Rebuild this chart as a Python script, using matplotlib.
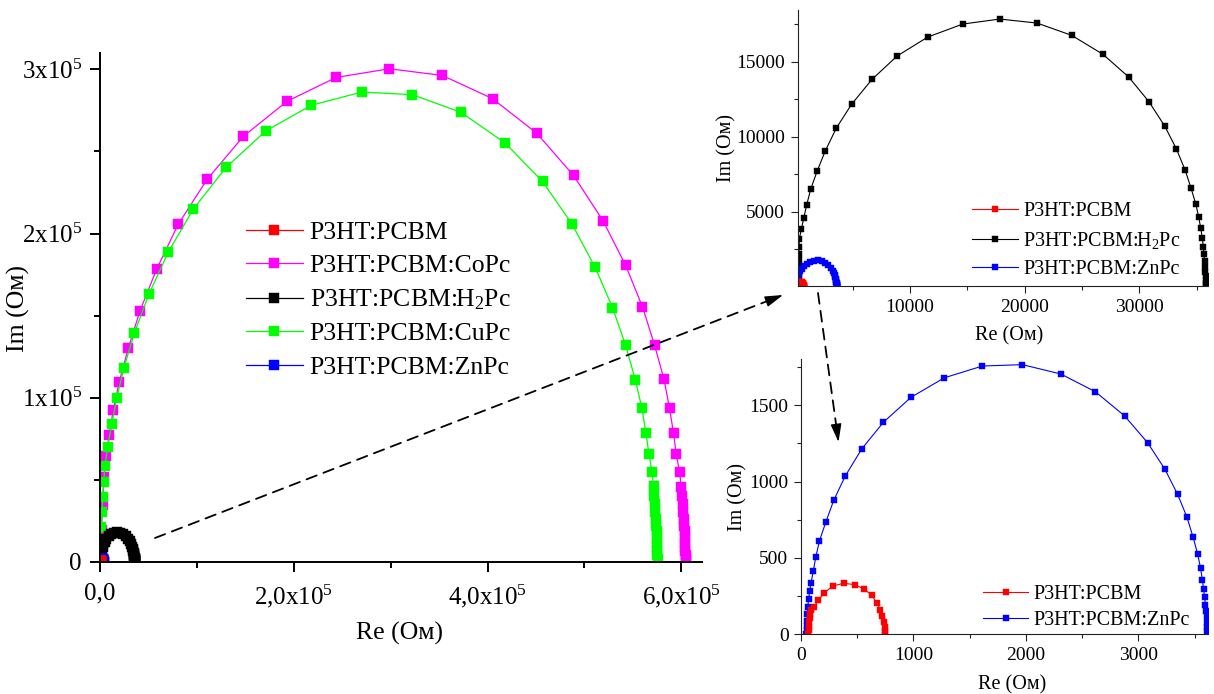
import matplotlib
matplotlib.use('Agg')
import matplotlib.pyplot as plt
from matplotlib.patches import FancyArrowPatch

plt.rcParams['font.family'] = ['Liberation Serif', 'DejaVu Serif']
plt.rcParams['mathtext.fontset'] = 'custom'
plt.rcParams['mathtext.rm'] = 'Liberation Serif'
plt.rcParams['mathtext.it'] = 'Liberation Serif:italic'
plt.rcParams['mathtext.default'] = 'regular'

# ---- impedance spectra (Re, -Im in Ohm) ----
labels = ['P3HT:PCBM', 'P3HT:PCBM:CoPc', 'P3HT:PCBM:H$_2$Pc',
          'P3HT:PCBM:CuPc', 'P3HT:PCBM:ZnPc']
colors = ['#ff0000', '#ff00ff', '#000000', '#00ff00', '#0000ff']

pcbm_re = [66, 67, 69, 72, 76, 81, 88, 113, 155, 208, 282, 380, 478, 564, 629,
           676, 706, 724, 735, 744, 747, 749]
pcbm_im = [5, 25, 50, 78, 105, 133, 160, 177, 223, 272, 316, 334, 325, 296, 255,
           203, 159, 120, 82, 50, 24, 6]

copc_re = [500, 1000, 1550, 2600, 4130, 6200, 9600, 13700, 19900, 29200,
           41300, 58500, 80800, 110800, 148000, 192800, 243700, 298700, 353400, 405100,
           450900, 488700, 519000, 542400, 559900, 572300, 582000, 587800, 591900, 594700,
           598100, 599900, 600600, 601300, 601900, 602400, 602900, 603300, 603600, 603900,
           604100, 604200, 604300, 604300, 604400]
copc_im = [1000, 10000, 19300, 34600, 51800, 64500, 77300, 92500, 109800, 130100,
           152900, 178300, 205700, 233200, 259200, 280500, 295100, 300400, 296300, 282200,
           261000, 235400, 207900, 180700, 155300, 132100, 111400, 93500, 78300, 65500,
           54900, 45700, 40000, 35000, 30300, 26000, 22000, 18500, 15000, 12000,
           9000, 6500, 4300, 2400, 800]

h2pc_re = [260, 262, 265, 268, 272, 276, 282, 290, 300, 314,
           340, 515, 724, 986, 1335, 1885, 2609, 3569, 4913, 6684,
           8866, 11544, 14599, 17828, 21083, 24110, 26841, 29084, 30855, 32225,
           33238, 33997, 34521, 34931, 35192, 35367, 35507, 35594, 35650, 35700,
           35740, 35770, 35790, 35800, 35810, 35815]
h2pc_im = [50, 150, 300, 500, 750, 1050, 1400, 1800, 2200, 2667,
           3200, 3827, 4580, 5467, 6513, 7693, 9067, 10580, 12180, 13827,
           15380, 16647, 17513, 17847, 17580, 16760, 15493, 13980, 12333, 10713,
           9200, 7800, 6580, 5533, 4647, 3893, 3227, 2667, 2200, 1750,
           1350, 1000, 700, 450, 250, 100]

cupc_re = [500, 800, 1300, 2100, 2800, 3800, 5200, 7900, 12100, 17200,
           24800, 35400, 50600, 70500, 96300, 130100, 171100, 217900, 270200, 322500,
           372700, 418200, 456700, 487000, 511100, 528900, 542400, 552500, 559300, 563400,
           566500, 569600, 571300, 572000, 572700, 573300, 573800, 574200, 574600, 574900,
           575100, 575200, 575300, 575300, 575400]
cupc_im = [5900, 13200, 21200, 30300, 39600, 48800, 58400, 70100, 83800, 99600,
           118300, 139300, 163200, 188700, 214900, 240300, 262500, 278100, 286200, 284600,
           273800, 255100, 231700, 205900, 179300, 154900, 132100, 110800, 93500, 78700,
           65700, 54900, 46200, 40000, 35000, 30300, 26000, 22000, 18500, 15000,
           12000, 9000, 6500, 4000, 1500]

znpc_re = [48, 49, 51, 53, 56, 60, 68, 77, 90, 110,
           131, 164, 220, 291, 395, 540, 733, 978, 1275, 1613,
           1969, 2310, 2618, 2879, 3083, 3237, 3350, 3433, 3486, 3528,
           3554, 3570, 3581, 3590, 3597, 3603, 3607, 3610, 3613, 3615, 3616]
znpc_im = [5, 25, 55, 90, 130, 181, 231, 284, 339, 416,
           504, 611, 733, 877, 1038, 1213, 1388, 1551, 1679, 1756,
           1765, 1704, 1588, 1429, 1254, 1080, 916, 766, 639, 526,
           432, 355, 295, 242, 195, 150, 110, 75, 45, 20, 5]

series = {
    'pcbm': (pcbm_re, pcbm_im, 0),
    'copc': (copc_re, copc_im, 1),
    'h2pc': (h2pc_re, h2pc_im, 2),
    'cupc': (cupc_re, cupc_im, 3),
    'znpc': (znpc_re, znpc_im, 4),
}

main_xticks = [0, 2e5, 4e5, 6e5]
main_xticklabels = ['0,0', '2,0x10$^5$', '4,0x10$^5$', '6,0x10$^5$']
main_yticks = [0, 1e5, 2e5, 3e5]
main_yticklabels = ['0', '1x10$^5$', '2x10$^5$', '3x10$^5$']

W, H = 1214, 694
fig = plt.figure(figsize=(W / 100, H / 100), dpi=100)


def px_axes(l, t, r, b):
    return fig.add_axes([l / W, 1 - b / H, (r - l) / W, (b - t) / H])


def fx(x):
    return x / W


def fy(y):
    return 1 - y / H


def style(ax, lw, color, major, minor, size):
    for s in ('top', 'right'):
        ax.spines[s].set_visible(False)
    for s in ('left', 'bottom'):
        ax.spines[s].set_linewidth(lw)
        ax.spines[s].set_color(color)
    ax.tick_params(which='major', direction='out', length=major, width=lw,
                   color=color, labelsize=size, pad=4)
    ax.tick_params(which='minor', direction='out', length=minor, width=lw,
                   color=color)


def draw(ax, keys, ms, lw):
    handles = {}
    for k in keys:
        re, im, i = series[k]
        ln, = ax.plot(re, im, color=colors[i], lw=lw, marker='s', ms=ms,
                      mec=colors[i], mew=0.3, label=labels[i])
        handles[k] = ln
    return handles


# ---- main panel ----
ax = px_axes(100, 53, 701.7, 561.7)
h = draw(ax, ['copc', 'cupc', 'h2pc', 'znpc', 'pcbm'], ms=7.6, lw=0.9)
ax.set_xlim(0, 6.21e5)
ax.set_ylim(0, 3.10e5)
ax.set_xticks(main_xticks, labels=main_xticklabels)
ax.set_xticks([1e5, 3e5, 5e5], minor=True)
ax.set_yticks(main_yticks, labels=main_yticklabels)
ax.set_yticks([0.5e5, 1.5e5, 2.5e5], minor=True)
style(ax, 1.4, 'black', 7, 4, 18)
ax.tick_params(axis='x', which='major', pad=8)
ax.tick_params(axis='y', which='major', pad=6)
order = ['pcbm', 'copc', 'h2pc', 'cupc', 'znpc']
ax.legend([h[k] for k in order], [labels[series[k][2]] for k in order],
          loc='upper left', bbox_to_anchor=(fx(246), fy(221)),
          bbox_transform=fig.transFigure, frameon=False, fontsize=18.5,
          handlelength=2.2, handletextpad=0.28, labelspacing=0.40,
          borderpad=0, borderaxespad=0)
fig.text(fx(399), fy(633), 'Re (Ом)', fontsize=18.5, ha='center', va='center')
fig.text(fx(18), fy(309), 'Im (Ом)', fontsize=18.5, ha='center', va='center',
         rotation=90)

# ---- upper-right panel ----
ax2 = px_axes(797.7, 10, 1208, 286)
h2 = draw(ax2, ['h2pc', 'znpc', 'pcbm'], ms=4.0, lw=0.8)
ax2.set_xlim(200, 36000)
ax2.set_ylim(60, 18450)
ax2.set_xticks([10000, 20000, 30000])
ax2.set_xticks([5000, 15000, 25000, 35000], minor=True)
ax2.set_yticks([5000, 10000, 15000])
ax2.set_yticks([2500, 7500, 12500, 17500], minor=True)
style(ax2, 0.8, '#222222', 5, 3, 14)
order2 = ['pcbm', 'h2pc', 'znpc']
ax2.legend([h2[k] for k in order2], [labels[series[k][2]] for k in order2],
           loc='upper left', bbox_to_anchor=(fx(972), fy(202)),
           bbox_transform=fig.transFigure, frameon=False, fontsize=14.5,
           handlelength=2.3, handletextpad=0.25, labelspacing=0.44,
           borderpad=0, borderaxespad=0)
fig.text(fx(1009), fy(336), 'Re (Ом)', fontsize=14.5, ha='center', va='center')
fig.text(fx(727), fy(148), 'Im (Ом)', fontsize=14.5, ha='center', va='center',
         rotation=90)

# ---- lower-right panel ----
ax3 = px_axes(801, 359.3, 1208, 634.3)
h3 = draw(ax3, ['znpc', 'pcbm'], ms=4.0, lw=0.8)
ax3.set_xlim(0, 3620)
ax3.set_ylim(0, 1800)
ax3.set_xticks([0, 1000, 2000, 3000])
ax3.set_xticks([500, 1500, 2500, 3500], minor=True)
ax3.set_yticks([0, 500, 1000, 1500])
ax3.set_yticks([250, 750, 1250, 1750], minor=True)
style(ax3, 0.8, '#222222', 5, 3, 14)
order3 = ['pcbm', 'znpc']
ax3.legend([h3[k] for k in order3], [labels[series[k][2]] for k in order3],
           loc='upper left', bbox_to_anchor=(fx(983), fy(585)),
           bbox_transform=fig.transFigure, frameon=False, fontsize=14.5,
           handlelength=2.25, handletextpad=0.25, labelspacing=0.32,
           borderpad=0, borderaxespad=0)
fig.text(fx(1012), fy(685), 'Re (Ом)', fontsize=14.5, ha='center', va='center')
fig.text(fx(738), fy(497), 'Im (Ом)', fontsize=14.5, ha='center', va='center',
         rotation=90)


# ---- dashed zoom arrows ----
def dashed_arrow(x0, y0, x1, y1, head=14):
    import math
    d = math.hypot(x1 - x0, y1 - y0)
    ux, uy = (x1 - x0) / d, (y1 - y0) / d
    xb, yb = x1 - ux * head, y1 - uy * head
    body = FancyArrowPatch((fx(x0), fy(y0)), (fx(xb), fy(yb)),
                           transform=fig.transFigure, arrowstyle='-',
                           lw=1.3, ls=(0, (6, 4)), color='black',
                           shrinkA=0, shrinkB=0)
    tip = FancyArrowPatch((fx(xb - ux * 2), fy(yb - uy * 2)), (fx(x1), fy(y1)),
                          transform=fig.transFigure,
                          arrowstyle='-|>,head_length=1.0,head_width=0.3',
                          mutation_scale=11, lw=1.0, color='black',
                          shrinkA=0, shrinkB=0)
    fig.add_artist(body)
    fig.add_artist(tip)


dashed_arrow(155, 538, 783, 295)
dashed_arrow(818, 293, 838.5, 442)

fig.savefig('out.png', dpi=100)
